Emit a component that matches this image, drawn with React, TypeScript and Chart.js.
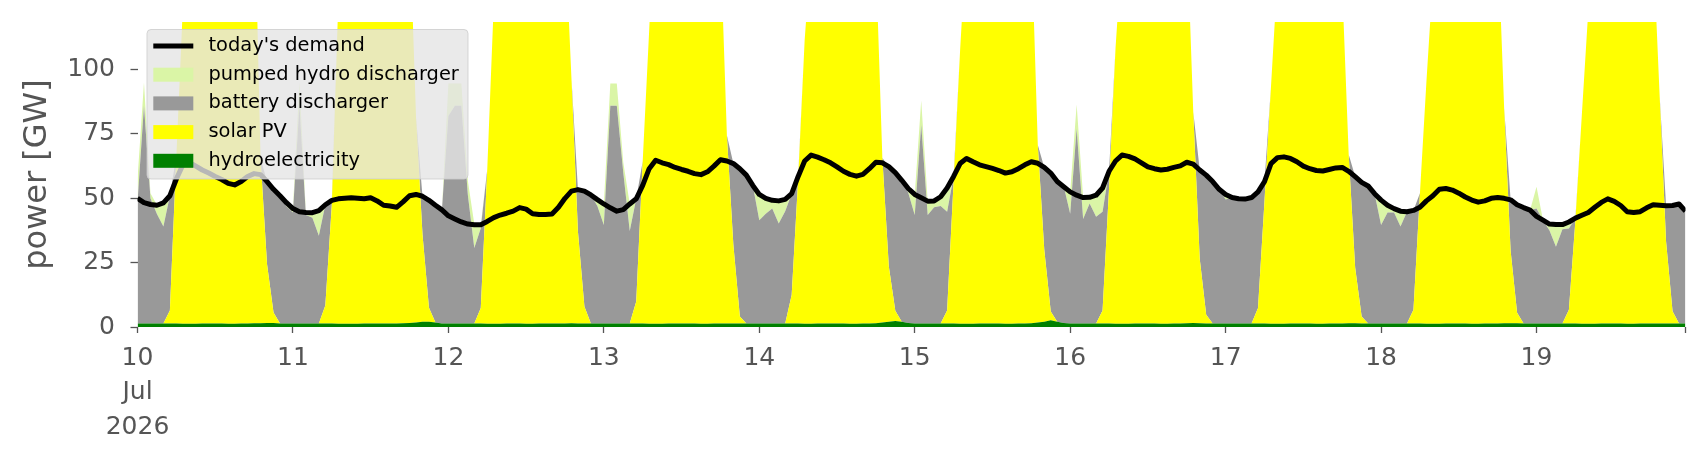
import { useEffect, useRef } from 'react';
import { Chart, registerables } from 'chart.js';

Chart.register(...registerables);

// hourly values from 10 Jul 2026 00:00 to 19 Jul 2026 23:00, in GW (one row per day)
const demand = [
  50.0, 48.3, 47.6, 47.3, 48.2, 51.0, 57.5, 63.0, 64.0, 62.5, 61.0, 59.8, 58.5, 57.3, 55.8, 55.2, 56.5, 58.5, 59.6, 59.2, 56.5, 53.5, 51.0, 48.3,
  46.0, 44.8, 44.5, 44.4, 45.2, 47.5, 49.2, 49.8, 50.0, 50.2, 50.0, 49.8, 50.2, 49.0, 47.3, 47.0, 46.5, 48.6, 51.0, 51.5, 50.8, 49.2, 47.3, 45.5,
  43.2, 42.0, 40.8, 40.0, 39.7, 39.7, 41.0, 42.5, 43.5, 44.2, 45.0, 46.4, 45.8, 44.0, 43.7, 43.7, 43.9, 46.5, 50.0, 52.8, 53.4, 52.8, 51.3, 49.5,
  47.8, 46.3, 45.0, 45.6, 47.8, 49.8, 55.0, 61.5, 64.8, 63.8, 63.1, 62.0, 61.2, 60.5, 59.6, 59.2, 60.3, 62.5, 65.0, 64.5, 63.5, 61.5, 59.0, 55.0,
  51.5, 50.0, 49.2, 49.0, 49.6, 51.8, 58.5, 64.5, 66.8, 66.0, 65.0, 63.8, 62.2, 60.5, 59.3, 58.6, 59.3, 61.5, 64.0, 63.8, 62.3, 60.0, 57.0, 53.8,
  51.5, 50.2, 48.9, 49.0, 50.6, 54.0, 58.5, 63.5, 65.5, 64.2, 63.0, 62.3, 61.6, 60.8, 59.8, 60.3, 61.5, 63.0, 64.2, 63.6, 62.0, 59.8, 56.5, 54.5,
  52.5, 51.2, 50.3, 50.4, 51.2, 54.0, 60.5, 64.5, 66.8, 66.3, 65.3, 63.8, 62.2, 61.5, 61.0, 61.3, 62.0, 62.6, 64.0, 63.3, 61.0, 59.0, 56.5, 53.5,
  51.5, 50.3, 49.8, 49.7, 50.3, 52.5, 56.5, 63.5, 65.8, 66.1, 65.5, 64.2, 62.5, 61.5, 60.8, 60.6, 61.2, 61.8, 62.0, 60.5, 58.4, 56.2, 54.8, 51.8,
  49.3, 47.3, 46.0, 45.0, 44.8, 45.3, 46.5, 49.0, 51.0, 53.5, 53.8, 53.2, 52.0, 50.5, 49.3, 48.5, 49.0, 50.0, 50.3, 50.0, 49.4, 47.5, 46.4, 45.4,
  43.0, 41.5, 40.0, 39.8, 39.8, 40.8, 42.3, 43.4, 44.5, 46.5, 48.4, 49.8, 48.8, 47.2, 44.8, 44.5, 44.8, 46.3, 47.5, 47.3, 47.1, 47.2, 47.8, 45.0,
];

const hydro = [
  1.4, 1.4, 1.4, 1.4, 1.4, 1.4, 1.4, 1.3, 1.3, 1.3, 1.4, 1.4, 1.4, 1.4, 1.3, 1.3, 1.4, 1.4, 1.5, 1.5, 1.6, 1.6, 1.4, 1.4,
  1.4, 1.4, 1.4, 1.4, 1.4, 1.4, 1.4, 1.3, 1.3, 1.3, 1.3, 1.4, 1.4, 1.4, 1.4, 1.4, 1.4, 1.5, 1.6, 1.7, 2.0, 2.0, 1.7, 1.4,
  1.4, 1.4, 1.4, 1.4, 1.4, 1.4, 1.3, 1.3, 1.3, 1.4, 1.4, 1.4, 1.3, 1.3, 1.4, 1.4, 1.4, 1.4, 1.4, 1.5, 1.4, 1.4, 1.4, 1.4,
  1.4, 1.4, 1.4, 1.4, 1.4, 1.4, 1.4, 1.3, 1.3, 1.3, 1.4, 1.4, 1.4, 1.4, 1.4, 1.3, 1.3, 1.4, 1.4, 1.4, 1.4, 1.4, 1.4, 1.4,
  1.4, 1.4, 1.4, 1.4, 1.4, 1.4, 1.4, 1.3, 1.3, 1.4, 1.4, 1.4, 1.4, 1.4, 1.3, 1.3, 1.4, 1.4, 1.5, 1.7, 2.0, 2.3, 2.0, 1.6,
  1.4, 1.4, 1.4, 1.4, 1.4, 1.4, 1.4, 1.3, 1.3, 1.3, 1.4, 1.4, 1.4, 1.4, 1.3, 1.3, 1.4, 1.4, 1.5, 1.7, 2.0, 2.6, 2.0, 1.6,
  1.4, 1.4, 1.4, 1.4, 1.4, 1.4, 1.4, 1.3, 1.3, 1.3, 1.4, 1.4, 1.4, 1.4, 1.3, 1.3, 1.4, 1.4, 1.5, 1.6, 1.5, 1.4, 1.4, 1.4,
  1.4, 1.4, 1.4, 1.4, 1.4, 1.4, 1.4, 1.3, 1.3, 1.3, 1.4, 1.4, 1.4, 1.4, 1.3, 1.3, 1.4, 1.4, 1.4, 1.5, 1.5, 1.4, 1.4, 1.4,
  1.4, 1.4, 1.4, 1.4, 1.4, 1.4, 1.4, 1.3, 1.3, 1.3, 1.4, 1.4, 1.4, 1.4, 1.3, 1.3, 1.4, 1.4, 1.4, 1.5, 1.5, 1.5, 1.4, 1.4,
  1.4, 1.4, 1.4, 1.4, 1.4, 1.4, 1.4, 1.3, 1.3, 1.3, 1.4, 1.4, 1.4, 1.4, 1.3, 1.3, 1.4, 1.4, 1.4, 1.4, 1.4, 1.4, 1.4, 1.4,
];

const solar = [
  0, 0, 0, 0, 0, 5, 65, 123, 180, 220, 250, 265, 270, 262, 248, 228, 205, 190, 172, 64, 22.8, 4, 0, 0,
  0, 0, 0, 0, 0, 7, 46, 125, 175, 215, 245, 262, 268, 262, 245, 225, 200, 180, 156, 80, 34, 5.5, 0, 0,
  0, 0, 0, 0, 0, 6, 60, 124, 170, 210, 240, 258, 265, 262, 248, 228, 205, 182, 152, 95, 35.7, 6.6, 0, 0,
  0, 0, 0, 0, 0, 8.5, 63, 114, 170, 212, 242, 260, 268, 265, 252, 232, 210, 185, 148, 73, 30.5, 2.7, 0, 0,
  0, 0, 0, 0, 0, 11, 56, 110, 145, 195, 230, 252, 262, 262, 250, 232, 210, 185, 141, 64, 21.5, 4, 0, 0,
  0, 0, 0, 0, 0, 5, 55, 106, 150, 195, 228, 250, 262, 262, 250, 232, 210, 185, 150, 69, 28, 3.4, 0, 0,
  0, 0, 0, 0, 0, 5, 52.5, 107, 145, 192, 228, 250, 262, 262, 250, 232, 210, 185, 154, 82, 25, 3.4, 0, 0,
  0, 0, 0, 0, 0, 6, 47.6, 92, 135, 185, 222, 248, 260, 262, 252, 235, 212, 170, 131, 65.5, 21.5, 2.7, 0, 0,
  0, 0, 0, 0, 0, 5.3, 50.6, 94, 134, 180, 215, 240, 252, 255, 245, 228, 205, 180, 152, 83.6, 28, 4, 0, 0,
  0, 0, 0, 0, 0, 5.3, 40, 81.4, 122, 170, 210, 238, 252, 256, 248, 232, 210, 185, 147, 88.8, 31.8, 4.7, 0, 0,
];

const battery = [
  47.1, 84.6, 48.6, 42.5, 37.6, 44.6, 0, 0, 0, 0, 0, 0, 0, 0, 0, 0, 0, 0, 0, 0, 32.1, 47.9, 49.6, 45.4,
  43.1, 84.6, 42.1, 41.0, 34.1, 39.1, 1.8, 0, 0, 0, 0, 0, 0, 0, 0, 0, 0, 0, 0, 0, 14.8, 41.7, 45.6, 44.1,
  80.6, 84.6, 84.6, 50.0, 29.3, 31.0, 0, 0, 0, 0, 0, 0, 0, 0, 0, 0, 0, 0, 0, 0, 16.3, 44.8, 49.9, 45.6,
  38.2, 84.6, 84.6, 58.6, 35.9, 39.9, 0, 0, 0, 0, 0, 0, 0, 0, 0, 0, 0, 0, 0, 0, 31.6, 57.4, 57.6, 53.6,
  40.1, 42.6, 44.6, 38.8, 43.6, 39.4, 1.1, 0, 0, 0, 0, 0, 0, 0, 0, 0, 0, 0, 0, 0, 38.8, 53.7, 55.0, 50.6,
  42.1, 77.1, 42.1, 45.1, 45.6, 38.4, 2.1, 0, 0, 0, 0, 0, 0, 0, 0, 0, 0, 0, 0, 0, 32.0, 53.8, 54.5, 53.1,
  42.6, 75.6, 40.6, 46.6, 41.4, 38.4, 6.6, 0, 0, 0, 0, 0, 0, 0, 0, 0, 0, 0, 0, 0, 34.6, 54.2, 55.1, 52.1,
  48.1, 48.9, 48.4, 48.3, 48.9, 45.1, 7.5, 0, 0, 0, 0, 0, 0, 0, 0, 0, 0, 0, 0, 0, 35.5, 52.1, 53.4, 50.4,
  38.2, 43.1, 43.1, 37.6, 43.4, 38.6, 0, 0, 0, 0, 0, 0, 0, 0, 0, 0, 0, 0, 0, 0, 19.9, 42.0, 45.0, 44.0,
  44.6, 40.1, 36.1, 29.8, 36.6, 31.6, 0.9, 0, 0, 0, 0, 0, 0, 0, 0, 0, 0, 0, 0, 0, 13.9, 41.1, 46.4, 43.6,
];

const pumpedHydro = [
  9.0, 9.0, 2.0, 3.5, 9.3, 0, 0, 0, 0, 0, 0, 0, 0, 0, 0, 0, 0, 0, 0, 0, 0, 0, 0, 1.5,
  1.5, 9.0, 1.0, 2.0, 9.7, 0, 0, 0, 0, 0, 0, 0, 0, 0, 0, 0, 0, 0, 0, 0, 0, 0, 0, 0,
  12.6, 8.6, 8.6, 5.5, 9.3, 1.3, 0, 0, 0, 0, 0, 0, 0, 0, 0, 0, 0, 0, 0, 0, 0, 0, 0, 2.5,
  8.2, 8.6, 8.6, 4.0, 10.5, 0, 0, 0, 0, 0, 0, 0, 0, 0, 0, 0, 0, 0, 0, 0, 0, 0, 0, 0,
  10.0, 6.0, 3.2, 8.8, 4.6, 0, 0, 0, 0, 0, 0, 0, 0, 0, 0, 0, 0, 0, 0, 0, 0, 0, 0, 1.8,
  8.0, 9.5, 5.4, 2.5, 3.6, 9.2, 0, 0, 0, 0, 0, 0, 0, 0, 0, 0, 0, 0, 0, 0, 0, 0, 0, 0,
  8.5, 9.4, 8.3, 2.4, 8.4, 9.2, 0, 0, 0, 0, 0, 0, 0, 0, 0, 0, 0, 0, 0, 0, 0, 0, 0, 0,
  2.0, 0, 0, 0, 0, 0, 0, 0, 0, 0, 0, 0, 0, 0, 0, 0, 0, 0, 0, 0, 0, 0, 0, 0,
  9.7, 2.8, 1.5, 6.0, 0, 0, 0, 0, 0, 0, 0, 0, 0, 0, 0, 0, 0, 0, 0, 0, 0, 0, 0, 0,
  8.5, 0, 2.5, 8.6, 1.8, 2.5, 0, 0, 0, 0, 0, 0, 0, 0, 0, 0, 0, 0, 0, 0, 0, 0, 0, 0,
];

// x ticks: midnight of each day, plus the end of the range
const dayTicks = [0, 24, 48, 72, 96, 120, 144, 168, 192, 216, 239];
const dayLabels: (string | string[])[] = [['10', 'Jul', '2026'], '11', '12', '13', '14', '15', '16', '17', '18', '19', ''];
const yTicks = [0, 25, 50, 75, 100];
const Y_MAX = 118.5;

const HYDRO_COLOR = '#008000';
const SOLAR_COLOR = '#ffff00';
const BATTERY_COLOR = '#999999';
const PUMPED_COLOR = '#daf5a6';
const TEXT_COLOR = '#555555';

const legendItems = [
  { label: "today's demand", color: '#000000', line: true },
  { label: 'pumped hydro discharger', color: PUMPED_COLOR, line: false },
  { label: 'battery discharger', color: BATTERY_COLOR, line: false },
  { label: 'solar PV', color: SOLAR_COLOR, line: false },
  { label: 'hydroelectricity', color: HYDRO_COLOR, line: false },
];

// matplotlib-like legend box drawn over the plot
const boxLegend = {
  id: 'boxLegend',
  afterDraw(chart: any) {
    const { ctx, chartArea } = chart;
    const x0 = chartArea.left + 9.5;
    const y0 = chartArea.top + 7.5;
    ctx.save();
    ctx.beginPath();
    ctx.roundRect(x0, y0, 321, 149.5, 4);
    ctx.fillStyle = 'rgba(229, 229, 229, 0.8)';
    ctx.fill();
    ctx.strokeStyle = 'rgba(204, 204, 204, 0.8)';
    ctx.lineWidth = 1;
    ctx.stroke();
    ctx.font = '19.4px "DejaVu Sans"';
    ctx.textBaseline = 'middle';
    ctx.textAlign = 'left';
    legendItems.forEach((item, i) => {
      const cy = y0 + 16.5 + i * 28.7;
      if (item.line) {
        ctx.strokeStyle = item.color;
        ctx.lineWidth = 5;
        ctx.beginPath();
        ctx.moveTo(x0 + 6.3, cy);
        ctx.lineTo(x0 + 46.3, cy);
        ctx.stroke();
      } else {
        ctx.fillStyle = item.color;
        ctx.fillRect(x0 + 6.3, cy - 7, 40, 14);
      }
      ctx.fillStyle = '#000000';
      ctx.fillText(item.label, x0 + 61.5, cy);
    });
    ctx.restore();
  },
};

export default function App() {
  const canvasRef = useRef<HTMLCanvasElement>(null);
  const chartRef = useRef<Chart | null>(null);

  useEffect(() => {
    if (!canvasRef.current) return;
    const ctx = canvasRef.current.getContext('2d');
    if (!ctx) return;

    if (chartRef.current) {
      chartRef.current.destroy();
    }

    Chart.defaults.font.family = '"DejaVu Sans", sans-serif';

    const toPoints = (vals: number[]) => vals.map((y, x) => ({ x, y }));

    const area = (label: string, vals: number[], color: string, first: boolean) => ({
      label,
      data: toPoints(vals),
      stack: 'supply',
      backgroundColor: color,
      borderColor: 'rgba(0, 0, 0, 0)',
      borderWidth: 0,
      pointRadius: 0,
      tension: 0,
      fill: first ? 'origin' : '-1',
      order: 1,
    });

    const config: any = {
      type: 'line',
      data: {
        datasets: [
          area('hydroelectricity', hydro, HYDRO_COLOR, true),
          area('solar PV', solar, SOLAR_COLOR, false),
          area('battery discharger', battery, BATTERY_COLOR, false),
          area('pumped hydro discharger', pumpedHydro, PUMPED_COLOR, false),
          {
            label: "today's demand",
            data: toPoints(demand),
            stack: 'demand',
            borderColor: '#000000',
            borderWidth: 5,
            borderJoinStyle: 'round',
            pointRadius: 0,
            tension: 0,
            fill: false,
            order: 0,
          },
        ],
      },
      options: {
        responsive: true,
        maintainAspectRatio: false,
        animation: false,
        events: [],
        layout: { padding: { left: 0, right: 20.5, top: 22, bottom: 0 } },
        plugins: {
          legend: { display: false },
          tooltip: { enabled: false },
        },
        scales: {
          x: {
            type: 'linear',
            min: 0,
            max: 239,
            afterBuildTicks: (scale: any) => {
              scale.ticks = dayTicks.map((value) => ({ value }));
            },
            afterFit: (scale: any) => {
              scale.height = 133;
              scale.paddingLeft = 0;
              scale.paddingRight = 0;
            },
            ticks: {
              callback: (_v: any, i: number) => dayLabels[i] ?? '',
              autoSkip: false,
              maxRotation: 0,
              minRotation: 0,
              padding: 8,
              color: TEXT_COLOR,
              font: { size: 25, lineHeight: 1.38 },
            },
            grid: {
              drawOnChartArea: false,
              drawTicks: true,
              tickLength: 6,
              tickColor: TEXT_COLOR,
              tickWidth: 1.3,
            },
            border: { display: false },
          },
          y: {
            stacked: true,
            min: 0,
            max: Y_MAX,
            afterBuildTicks: (scale: any) => {
              scale.ticks = yTicks.map((value) => ({ value }));
            },
            afterFit: (scale: any) => {
              scale.width = 137.5;
              scale.paddingTop = 0;
              scale.paddingBottom = 0;
            },
            ticks: {
              padding: 15.5,
              color: TEXT_COLOR,
              font: { size: 25 },
            },
            grid: {
              drawOnChartArea: false,
              drawTicks: true,
              tickLength: 7,
              tickColor: TEXT_COLOR,
              tickWidth: 1.3,
            },
            border: { display: false },
            title: {
              display: true,
              text: 'power [GW]',
              color: TEXT_COLOR,
              font: { size: 32 },
              padding: { top: 18.3, bottom: 0 },
            },
          },
        },
      },
      plugins: [boxLegend],
    };

    chartRef.current = new Chart(ctx, config);

    return () => {
      if (chartRef.current) {
        chartRef.current.destroy();
        chartRef.current = null;
      }
    };
  }, []);

  return (
    <div style={{ position: 'absolute', left: 0, top: 0, width: 1706, height: 460, background: '#ffffff' }}>
      <canvas ref={canvasRef}></canvas>
    </div>
  );
}
